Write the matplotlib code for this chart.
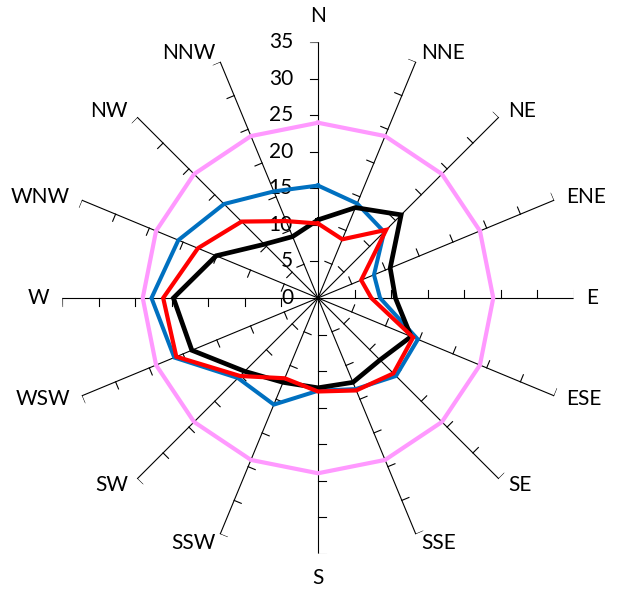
import numpy as np
import matplotlib
matplotlib.use("Agg")
import matplotlib.pyplot as plt

plt.rcParams['font.family'] = ['Lato', 'DejaVu Sans']

directions = ["N", "NNE", "NE", "ENE", "E", "ESE", "SE", "SSE",
              "S", "SSW", "SW", "WSW", "W", "WNW", "NW", "NNW"]
series_blue = [15.4, 14.0, 12.8, 8.3, 8.5, 14.8, 15.1, 13.5,
               12.7, 15.8, 15.5, 21.3, 22.8, 20.7, 18.2, 15.8]
series_red = [10.2, 8.7, 13.2, 6.4, 7.3, 14.1, 14.6, 13.7,
              12.8, 11.9, 15.1, 21.0, 21.2, 17.8, 14.8, 11.4]
series_black = [10.7, 13.4, 16.1, 10.7, 10.6, 13.8, 12.0, 12.5,
                12.3, 12.5, 14.2, 18.7, 19.8, 15.1, 10.4, 9.1]
series_pink = [24] * 16
r_ticks = [0, 5, 10, 15, 20, 25, 30, 35]

W, H = 617, 590
fig = plt.figure(figsize=(W / 100, H / 100), dpi=100)
cx, cy, R = 318, 590 - 298, 255.6
ax = fig.add_axes([(cx - R) / W, (cy - R) / H, 2 * R / W, 2 * R / H], projection='polar')
ax.set_theta_zero_location('N')
ax.set_theta_direction(-1)
rmax = r_ticks[-1]
ax.set_ylim(0, rmax)
ax.grid(False)
ax.spines['polar'].set_visible(False)
ax.set_xticks([])
ax.set_yticks([])
ax.patch.set_alpha(0)

n = len(directions)
theta = np.arange(n) * 2 * np.pi / n

# spokes
for t in theta:
    ax.plot([t, t], [0, rmax], color='black', lw=0.8, zorder=1)
    # tick marks (perpendicular, on counter-clockwise side)
    L = 1.05
    for r in r_ticks[1:]:
        rr = np.hypot(r, L)
        tt = t - np.arctan2(L, r)
        ax.plot([t, tt], [r, rr], color='black', lw=0.8, zorder=1)

# value labels along N axis
for r in r_ticks:
    ax.annotate(str(r), xy=(0, r), xytext=(-25, 0), textcoords='offset pixels',
                ha='right', va='center', fontsize=15, annotation_clip=False)

# direction labels
for t, lab in zip(theta, directions):
    s, c = np.sin(t), np.cos(t)
    if abs(s) < 1e-6:
        off = (0, 26 if c > 0 else -24)
        ha = 'center'
    else:
        off = (13 * s, 9.5 * c)
        ha = 'left' if s > 0 else 'right'
    ax.annotate(lab, xy=(t, rmax), xytext=off, textcoords='offset pixels',
                ha=ha, va='center', fontsize=15, annotation_clip=False)

def closed(vals):
    return np.append(theta, theta[0]), np.append(vals, vals[0])

for vals, col, lw in [(series_pink, '#FF99FF', 3.0),
                      (series_blue, '#0070C0', 2.9),
                      (series_black, '#000000', 3.4),
                      (series_red, '#FF0000', 3.0)]:
    tt, vv = closed(np.asarray(vals, dtype=float))
    ax.plot(tt, vv, color=col, lw=lw, zorder=3, solid_joinstyle='miter')

fig.savefig('out.png', dpi=100)
